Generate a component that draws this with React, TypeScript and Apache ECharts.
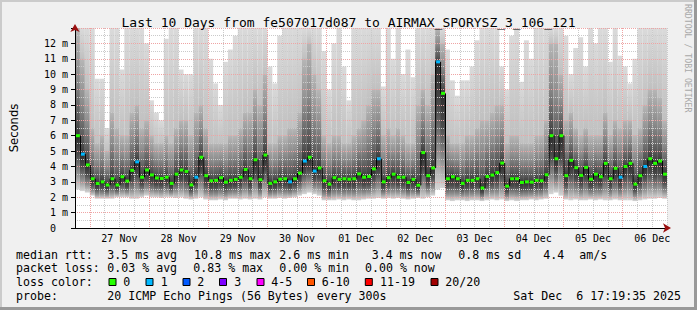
import React, { useEffect, useRef } from 'react';
import * as echarts from 'echarts';

// ---- data (2-hour buckets starting 26 Nov 18:00) ----
const BUCKET_HOURS = 2;
const medianMs = [
  6.0, 4.8, 4.1, 3.2, 2.9, 3.0, 2.8, 3.2, 2.8, 3.33,
  3.05, 3.75, 4.3, 3.3, 3.77, 3.45, 3.25, 3.22, 3.3, 2.9,
  3.5, 3.77, 3.68, 2.8, 3.3, 4.6, 3.4, 3.07, 3.1, 3.27,
  2.98, 3.1, 3.16, 3.3, 3.8, 3.2, 4.44, 3.14, 4.74, 2.9,
  3.0, 3.17, 3.2, 3.0, 3.2, 3.57, 4.35, 4.6, 3.7, 3.9,
  3.07, 2.85, 3.27, 3.16, 3.2, 3.17, 3.2, 3.52, 3.3, 3.35,
  3.84, 4.5, 3.0, 3.27, 3.5, 3.3, 3.3, 2.96, 3.16, 2.78,
  4.9, 3.4, 3.9, 10.8, 8.75, 3.2, 3.33, 3.2, 2.9, 3.1,
  3.1, 3.2, 2.6, 3.35, 3.44, 3.6, 4.22, 2.72, 3.2, 3.2,
  2.96, 3.0, 2.98, 3.1, 3.07, 3.46, 6.0, 4.5, 6.0, 3.4,
  4.4, 3.92, 3.42, 3.94, 3.17, 3.5, 3.33, 4.2, 3.2, 3.88,
  3.3, 4.0, 4.2, 2.85, 3.4, 4.0, 4.5, 4.2, 4.35, 3.5,
];
const lossCount = [
  0, 1, 0, 0, 0, 0, 0, 0, 0, 0,
  0, 0, 1, 0, 0, 0, 0, 0, 0, 0,
  0, 0, 0, 0, 1, 0, 0, 0, 0, 0,
  0, 0, 0, 0, 0, 0, 0, 0, 0, 0,
  0, 0, 0, 1, 0, 0, 1, 0, 1, 0,
  0, 0, 0, 0, 0, 0, 0, 0, 0, 0,
  0, 1, 0, 0, 0, 0, 0, 0, 0, 0,
  0, 0, 0, 1, 0, 0, 0, 0, 0, 0,
  0, 0, 0, 0, 0, 0, 0, 0, 0, 0,
  0, 0, 0, 0, 0, 0, 0, 0, 0, 0,
  0, 0, 0, 0, 0, 0, 0, 0, 0, 0,
  1, 0, 0, 0, 0, 1, 0, 0, 0, 0,
];
const smokeLow = [
  2.5, 2.4, 2.3, 2.1, 1.9, 1.9, 1.9, 1.9, 2.0, 2.0,
  2.0, 1.9, 1.9, 2.0, 2.1, 2.0, 2.0, 1.95, 2.0, 2.0,
  1.95, 2.0, 1.9, 1.85, 1.9, 2.0, 1.85, 1.8, 1.8, 1.85,
  1.8, 1.9, 1.9, 1.85, 1.9, 1.85, 1.9, 1.85, 2.0, 1.9,
  1.9, 1.95, 1.9, 1.95, 2.0, 2.1, 2.2, 2.3, 2.2, 2.1,
  1.8, 1.8, 1.8, 1.85, 1.8, 1.85, 1.8, 1.8, 1.85, 1.9,
  1.9, 1.95, 1.9, 1.95, 1.9, 1.95, 1.9, 1.85, 1.9, 1.95,
  1.9, 2.0, 2.1, 2.5, 2.6, 1.8, 1.75, 1.8, 1.8, 1.75,
  1.8, 1.8, 1.75, 1.8, 1.85, 1.8, 1.85, 1.75, 1.8, 1.75,
  1.8, 1.8, 1.85, 1.8, 1.85, 1.9, 2.2, 2.3, 2.1, 1.85,
  1.8, 1.85, 1.8, 1.8, 1.85, 1.8, 1.85, 1.8, 1.8, 1.85,
  1.8, 1.8, 1.8, 1.75, 1.8, 1.85, 1.9, 1.9, 1.95, 1.9,
];
const smokeMid = [
  13, 11, 9, 6.5, 5.5, 6, 5, 7.5, 6.5, 6,
  6, 7.5, 8, 6.5, 7, 6, 5.5, 5.5, 6, 5.5,
  6.5, 7, 7, 6, 7.5, 8, 6.5, 5.5, 5.5, 5.5,
  5.5, 6, 6, 6.5, 7.5, 7.5, 9, 8, 10, 5.5,
  5.5, 6, 6, 6.5, 6.5, 7.5, 11, 12, 10, 9,
  6, 5.5, 6, 6, 5.5, 5.5, 6, 6.5, 7, 8,
  9, 9, 6, 6.5, 6, 6.5, 6, 5.5, 5.5, 8,
  9, 8, 10, 13, 12, 6, 5.5, 5.5, 5.5, 6,
  6, 6.5, 7, 7, 7.5, 8, 8, 5.5, 6, 6,
  5.5, 5.5, 5.5, 6, 6, 7, 12, 12, 10, 7,
  7.5, 6.5, 6, 6.5, 6, 6, 6, 7.5, 6, 7,
  6.5, 7, 7, 6, 6.5, 8, 9, 9, 8.5, 7,
];
const smokeHigh = [
  13, 13, 13, 13, 9.7, 9.7, 6.5, 13, 13, 10.3,
  13, 13, 13, 13, 12, 8.3, 7.5, 7, 12.3, 13,
  13, 10.3, 10, 10, 13, 13, 13, 11, 9.4, 8,
  10.8, 11.6, 12.5, 13, 13, 13, 13, 13, 13, 10.5,
  9.4, 12.5, 13, 13, 13, 13, 13, 13, 13, 13,
  11.5, 9, 12, 13, 10.5, 8.3, 13, 13, 13, 13,
  13, 13, 9.2, 13, 11, 13, 10, 11.6, 9.8, 13,
  13, 13, 13, 13, 13, 11.6, 9.6, 8.6, 9.6, 9.6,
  10.5, 12.2, 13, 13, 13, 13, 10.5, 9, 12.5, 13,
  9.5, 12.2, 11, 13, 13, 13, 13, 13, 13, 12.5,
  10, 11.7, 12.4, 10.5, 13, 12, 13, 13, 10.8, 13,
  11.2, 10.5, 9.4, 11, 13, 13, 13, 13, 13, 13,
];
const dayLabels = ['27 Nov', '28 Nov', '29 Nov', '30 Nov', '01 Dec', '02 Dec', '03 Dec', '04 Dec', '05 Dec', '06 Dec'];
const titleText = 'Last 10 Days from fe507017d087 to AIRMAX_SPORYSZ_3_106_121';
const medianStats = ['3.5 ms avg', '10.8 ms max', '2.6 ms min', '3.4 ms now', '0.8 ms sd', '4.4', 'am/s'];
const lossStats = ['0.03 % avg', '0.83 % max', '0.00 % min', '0.00 % now'];
const lossLegend = [
  { label: '0', color: '#26ff00' },
  { label: '1', color: '#00b8ff' },
  { label: '2', color: '#0059ff' },
  { label: '3', color: '#7e00ff' },
  { label: '4-5', color: '#ff00ff' },
  { label: '6-10', color: '#ff5500' },
  { label: '11-19', color: '#ff0000' },
  { label: '20/20', color: '#a10000' },
];
const probeText = '20 ICMP Echo Pings (56 Bytes) every 300s';
const dateText = ['Sat Dec', '6 17:19:35 2025'];

const MONO = "'DejaVu Sans Mono', monospace";
const SANS = "'DejaVu Sans', sans-serif";
const GRID_RED = '#efa4a4';
const GRID_GRAY = '#cacaca';
const ARROW = '#9a1010';

function lossColor(n: number): string {
  if (n <= 0) return lossLegend[0].color;
  if (n === 1) return lossLegend[1].color;
  if (n === 2) return lossLegend[2].color;
  if (n === 3) return lossLegend[3].color;
  if (n <= 5) return lossLegend[4].color;
  if (n <= 10) return lossLegend[5].color;
  if (n <= 19) return lossLegend[6].color;
  return lossLegend[7].color;
}

function buildOption() {
  const smokeData = medianMs.map((m, i) => [i * BUCKET_HOURS, smokeLow[i], m, Math.max(m, smokeMid[i]), smokeHigh[i]]);
  const medianData = medianMs.map((m, i) => [i * BUCKET_HOURS, m, i > 0 ? medianMs[i - 1] : m, lossCount[i]]);

  const text = (x: number, y: number, t: string, extra: any = {}) => ({
    type: 'text',
    x, y,
    silent: true,
    style: { text: t, font: `11.6px ${MONO}`, fill: '#000', align: 'left', verticalAlign: 'middle', textAlign: 'left', textVerticalAlign: 'middle', ...extra },
  });

  const legendEls: any[] = [];
  const rowY = [254.7, 268.3, 282.3, 295.7];
  legendEls.push(text(16, rowY[0], 'median rtt:'));
  const medX = [107.3, 194, 279.3, 371.7, 458.3, 543.3, 579.3];
  medianStats.forEach((s, i) => legendEls.push(text(medX[i], rowY[0], s)));
  legendEls.push(text(16, rowY[1], 'packet loss:'));
  const lossX = [107.3, 193.3, 279.3, 365];
  lossStats.forEach((s, i) => legendEls.push(text(lossX[i], rowY[1], s)));
  legendEls.push(text(16, rowY[2], 'loss color:'));
  const boxX = [109, 146, 183, 219.5, 257, 307.5, 365.3, 431];
  const labX = [123.3, 160.7, 197.3, 234.3, 271.3, 321.7, 380, 445.3];
  lossLegend.forEach((l, i) => {
    legendEls.push({ type: 'rect', silent: true, shape: { x: boxX[i], y: 278.5, width: 7, height: 7 }, style: { fill: l.color, stroke: '#000', lineWidth: 1 } });
    legendEls.push(text(labX[i], rowY[2], l.label));
  });
  legendEls.push(text(16, rowY[3], 'probe:'));
  legendEls.push(text(107.3, rowY[3], probeText));
  legendEls.push(text(513.3, rowY[3], dateText[0]));
  legendEls.push(text(576.3, rowY[3], dateText[1]));

  // frame shading + watermark
  legendEls.push({ type: 'rect', silent: true, z: -1, shape: { x: 0, y: 0, width: 697, height: 2 }, style: { fill: '#cbcbcb' } });
  legendEls.push({ type: 'rect', silent: true, z: -1, shape: { x: 0, y: 0, width: 2, height: 310 }, style: { fill: '#cbcbcb' } });
  legendEls.push({ type: 'rect', silent: true, shape: { x: 0, y: 307, width: 697, height: 3 }, style: { fill: '#999999' } });
  legendEls.push({ type: 'rect', silent: true, shape: { x: 694, y: 0, width: 3, height: 310 }, style: { fill: '#999999' } });
  legendEls.push({
    type: 'text', silent: true, x: 688, y: 4, rotation: -Math.PI / 2,
    style: { text: 'RRDTOOL / TOBI OETIKER', font: `8.2px ${MONO}`, fill: '#a8a8a8', align: 'left', verticalAlign: 'middle', textAlign: 'left', textVerticalAlign: 'middle' },
  });

  return {
    animation: false,
    backgroundColor: '#f0f0f0',
    title: {
      text: titleText,
      left: 'center',
      top: 11,
      textStyle: { fontFamily: MONO, fontSize: 13, fontWeight: 'normal', color: '#000' },
    },
    grid: { left: 67, top: 28, width: 600, height: 200, show: true, backgroundColor: '#ffffff', borderWidth: 0 },
    xAxis: [
      {
        type: 'value', min: 0, max: 240, interval: 6, position: 'bottom', z: 3,
        axisLine: { show: true, onZero: false, lineStyle: { color: '#000', width: 1 } },
        axisTick: { show: false },
        axisLabel: {
          show: true, margin: 5, color: '#000', fontFamily: MONO, fontSize: 10,
          showMinLabel: true, showMaxLabel: true,
          formatter: (v: number) => (v % 24 === 18 ? dayLabels[(v - 18) / 24] : ''),
        },
        splitLine: { show: true, lineStyle: { color: [GRID_GRAY, GRID_RED, GRID_GRAY, GRID_GRAY], type: [1, 1], width: 1 } },
      },
      {
        type: 'value', min: 0, max: 240, position: 'bottom', z: 4,
        axisLine: { show: true, onZero: false, symbol: ['none', 'arrow'], symbolSize: [7, 8], symbolOffset: [0, 4], lineStyle: { color: ARROW, width: 0.01 } },
        axisTick: { show: false }, axisLabel: { show: false }, splitLine: { show: false },
      },
    ],
    yAxis: [
      {
        type: 'value', min: 0, max: 13, interval: 1, position: 'left', z: 3,
        name: 'Seconds', nameLocation: 'middle', nameGap: 55, nameRotate: 90,
        nameTextStyle: { fontFamily: SANS, fontSize: 11.6, color: '#000' },
        axisLine: { show: true, onZero: false, lineStyle: { color: '#000', width: 1 } },
        axisTick: { show: true, length: 4, lineStyle: { color: '#000' } },
        axisLabel: {
          show: true, margin: 7, color: '#000', fontFamily: MONO, fontSize: 10,
          formatter: (v: number) => (v === 13 ? '' : v === 0 ? '{z|0}' : `${v} m`),
          rich: { z: { fontFamily: MONO, fontSize: 10, color: '#000', padding: [0, 12, 0, 0] } },
        },
        splitLine: { show: true, lineStyle: { color: GRID_RED, type: [1, 1], width: 1 } },
        minorTick: { show: false, splitNumber: 2 },
        minorSplitLine: { show: true, lineStyle: { color: GRID_GRAY, type: [1, 1], width: 1 } },
      },
      {
        type: 'value', min: 0, max: 13, position: 'left', z: 4,
        axisLine: { show: true, onZero: false, symbol: ['none', 'arrow'], symbolSize: [7, 8], symbolOffset: [0, 4], lineStyle: { color: ARROW, width: 0.01 } },
        axisTick: { show: false }, axisLabel: { show: false }, splitLine: { show: false },
      },
    ],
    graphic: { elements: legendEls },
    series: [
      {
        type: 'custom',
        name: 'smoke',
        z: 1,
        silent: true,
        xAxisIndex: 0,
        yAxisIndex: 0,
        encode: { x: 0, y: [1, 2, 3, 4] },
        data: smokeData,
        renderItem: (params: any, api: any) => {
          const x = api.value(0);
          const lo = api.value(1), med = api.value(2), mid = api.value(3), hi = api.value(4);
          const x0 = api.coord([x, 0])[0];
          const x1 = api.coord([x + BUCKET_HOURS, 0])[0];
          const yLo = api.coord([x, lo])[1];
          const yMed = api.coord([x, med])[1];
          const yMid = api.coord([x, mid])[1];
          const yHi = api.coord([x, hi])[1];
          const w = x1 - x0;
          const children: any[] = [];
          if (hi > mid) {
            children.push({
              type: 'rect', shape: { x: x0, y: yHi, width: w, height: yMid - yHi + 0.5 },
              style: { fill: new echarts.graphic.LinearGradient(0, 0, 0, 1, [{ offset: 0, color: '#dadada' }, { offset: 1, color: '#c0c0c0' }]) },
            });
          }
          children.push({
            type: 'rect', shape: { x: x0, y: yMid, width: w, height: yMed - yMid + 0.5 },
            style: {
              fill: new echarts.graphic.LinearGradient(0, 0, 0, 1, [
                { offset: 0, color: '#b6b6b6' }, { offset: 0.45, color: '#8c8c8c' }, { offset: 0.85, color: '#555555' }, { offset: 1, color: '#363636' },
              ]),
            },
          });
          children.push({
            type: 'rect', shape: { x: x0, y: yMed, width: w, height: yLo - yMed },
            style: {
              fill: new echarts.graphic.LinearGradient(0, 0, 0, 1, [
                { offset: 0, color: '#2c2c2c' }, { offset: 0.35, color: '#4c4c4c' }, { offset: 0.7, color: '#8e8e8e' }, { offset: 1, color: '#d6d6d6' },
              ]),
            },
          });
          return { type: 'group', children };
        },
      },
      {
        type: 'custom',
        name: 'median',
        z: 5,
        silent: true,
        xAxisIndex: 0,
        yAxisIndex: 0,
        encode: { x: 0, y: 1 },
        data: medianData,
        renderItem: (params: any, api: any) => {
          const x = api.value(0);
          const med = api.value(1), prev = api.value(2), loss = api.value(3);
          const x0 = api.coord([x, 0])[0];
          const x1 = api.coord([x + BUCKET_HOURS, 0])[0];
          const y = api.coord([x, med])[1];
          const yp = api.coord([x, prev])[1];
          return {
            type: 'group',
            children: [
              { type: 'polyline', shape: { points: [[x0 + 0.5, yp], [x0 + 0.5, y], [x1, y]] }, style: { stroke: '#000', lineWidth: 1, fill: null } },
              { type: 'rect', shape: { x: x0 + 1, y: y - 1.5, width: x1 - x0 - 1, height: 3 }, style: { fill: lossColor(loss) } },
            ],
          };
        },
      },
    ],
  };
}

export default function App() {
  const ref = useRef<HTMLDivElement>(null);
  useEffect(() => {
    if (!ref.current) return;
    const chart = echarts.init(ref.current, undefined, { renderer: 'svg' });
    chart.setOption(buildOption() as any);
    return () => chart.dispose();
  }, []);
  return <div ref={ref} style={{ position: 'fixed', left: 0, top: 0, width: 697, height: 310 }} />;
}
